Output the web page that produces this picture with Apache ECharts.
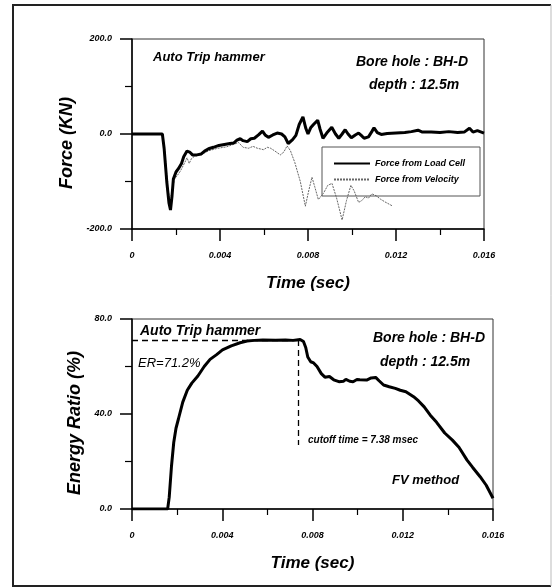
<!DOCTYPE html>
<html>
<head>
<meta charset="utf-8">
<script src="https://cdn.jsdelivr.net/npm/echarts@6/dist/echarts.min.js"></script>
<style>
  html, body { margin: 0; padding: 0; background: #fff; }
  #chart { width: 553px; height: 587px; }
</style>
</head>
<body>
<div id="chart"></div>
<script>
// time in msec
const loadCellT = [0, 1.38, 1.46, 1.58, 1.68, 1.75, 1.82, 1.88, 2.0, 2.11, 2.25, 2.35, 2.5, 2.62, 2.75, 2.95, 3.15, 3.3, 3.48, 3.7, 3.95, 4.2, 4.45, 4.62, 4.77, 4.92, 5.05, 5.24, 5.4, 5.56, 5.75, 5.93, 6.05, 6.2, 6.4, 6.6, 6.8, 6.95, 7.1, 7.18, 7.3, 7.45, 7.6, 7.77, 7.9, 8.0, 8.12, 8.25, 8.44, 8.55, 8.68, 8.85, 9.08, 9.25, 9.4, 9.55, 9.69, 9.82, 9.97, 10.15, 10.3, 10.42, 10.55, 10.75, 10.9, 11.0, 11.15, 11.33, 11.6, 12.0, 12.4, 12.7, 13.0, 13.2, 13.6, 14.0, 14.4, 14.8, 15.1, 15.34, 15.5, 15.7, 16.0];
const loadCellF = [0, 0, -30, -100, -145, -160, -130, -95, -80, -73, -62, -48, -36, -38, -44, -44, -42, -36, -31, -28, -24, -22, -20, -19, -13, -10, -14, -16, -10, -9, -2, 6, -2, -7, -2, 2, 0, -6, -20, -23, -12, -3, 20, 36, 12, 0, 13, 20, 29, 10, -9, 2, 14, 0, -9, 0, 9, 0, -8, -2, 2, -3, -9, -6, 5, 13, 3, -1, 1, 2, 3, 5, 8, 4, 4, 3, 5, 3, 4, 12, 4, 7, 2];

const velocityT = [0, 1.4, 1.5, 1.62, 1.74, 1.82, 1.92, 2.05, 2.2, 2.4, 2.5, 2.6, 2.7, 2.9, 3.2, 3.5, 3.9, 4.3, 4.6, 4.85, 5.05, 5.3, 5.5, 5.7, 5.98, 6.15, 6.3, 6.5, 6.74, 6.9, 7.05, 7.2, 7.4, 7.65, 7.88, 8.03, 8.18, 8.3, 8.47, 8.7, 8.9, 9.09, 9.3, 9.55, 9.75, 9.95, 10.1, 10.3, 10.45, 10.6, 10.75, 10.9, 11.1, 11.29, 11.5, 11.82];
const velocityF = [0, 0, -40, -110, -148, -125, -95, -88, -78, -60, -50, -62, -52, -45, -42, -35, -30, -27, -22, -18, -28, -30, -26, -30, -33, -28, -30, -36, -44, -38, -25, -35, -60, -100, -152, -120, -91, -110, -138, -125, -108, -104, -135, -181, -140, -108, -120, -144, -140, -132, -135, -126, -130, -137, -143, -151];

const energyT = [0, 1.58, 1.65, 1.75, 1.85, 1.95, 2.06, 2.25, 2.45, 2.65, 2.92, 3.2, 3.46, 3.75, 4.01, 4.4, 4.79, 5.1, 5.42, 5.8, 6.36, 6.8, 7.14, 7.45, 7.6, 7.7, 7.79, 7.92, 8.05, 8.2, 8.39, 8.55, 8.75, 8.94, 9.17, 9.38, 9.48, 9.65, 9.8, 9.97, 10.1, 10.4, 10.6, 10.8, 10.95, 11.15, 11.4, 11.67, 11.89, 12.14, 12.48, 12.7, 12.95, 13.22, 13.5, 13.86, 14.2, 14.49, 14.85, 15.1, 15.43, 15.7, 16.0];
const energyR = [0, 0, 5, 18, 28, 34, 38, 45, 50, 53, 56, 60, 63, 65, 67, 68.7, 70, 70.7, 71, 71.2, 71.1, 71.2, 71, 71.4, 70.5, 68, 64, 62, 61.5, 60, 57, 55.5, 55.8, 54.4, 53.6, 53.8, 54.6, 53.8, 53.6, 54.5, 54.4, 54.3, 55.2, 55.4, 54, 52.2, 51.5, 50.8, 50, 49.4, 47.3, 45.5, 43, 39.5, 36.5, 32, 29, 26, 20.6, 17.5, 13.6, 10, 4.5];

const erValue = 71.2;      // %
const cutoffTime = 7.38;   // msec
const cutoffBottom = 27;   // where the dashed cutoff line stops

const forceTicks = [-200, 200, 200];   // min, max, interval
const energyTicks = [0, 80, 40];
const timeTicks = [0, 0.016, 0.004];

function pairs(ts, vs) {
  return ts.map((t, i) => [t / 1000, vs[i]]);
}

const FONT = '"Liberation Sans", Arial, sans-serif';
const NARROW = '"Liberation Sans Narrow", "Liberation Sans", Arial, sans-serif';

const tickLabel = {
  fontFamily: NARROW, fontSize: 9, fontWeight: 'bold', fontStyle: 'italic', color: '#000'
};
const axisTitle = {
  fontFamily: FONT, fontSize: 17, fontWeight: 'bold', fontStyle: 'italic', color: '#000'
};

function timeAxis(gridIndex) {
  return {
    type: 'value', gridIndex,
    min: timeTicks[0], max: timeTicks[1], interval: timeTicks[2],
    name: 'Time (sec)', nameLocation: 'middle', nameGap: 46,
    nameTextStyle: axisTitle,
    axisLine: { show: true, onZero: false, lineStyle: { color: '#000', width: 1.5 } },
    axisTick: { show: true, length: 12, lineStyle: { color: '#000', width: 1.5 } },
    minorTick: { show: true, splitNumber: 2, length: 6, lineStyle: { color: '#000', width: 1.2 } },
    splitLine: { show: false },
    axisLabel: {
      ...tickLabel, margin: 22,
      formatter: v => (v === 0 ? '0' : v.toFixed(3))
    }
  };
}

function valueAxis(gridIndex, ticks, name, gap) {
  return {
    type: 'value', gridIndex,
    min: ticks[0], max: ticks[1], interval: ticks[2],
    name, nameLocation: 'middle', nameGap: gap,
    nameTextStyle: { ...axisTitle, fontSize: 18, padding: [0, 18, 0, 0] },
    axisLine: { show: true, onZero: false, lineStyle: { color: '#000', width: 1.5 } },
    axisTick: { show: true, length: 12, lineStyle: { color: '#000', width: 1.5 } },
    minorTick: { show: true, splitNumber: 2, length: 7, lineStyle: { color: '#000', width: 1.2 } },
    splitLine: { show: false },
    axisLabel: { ...tickLabel, margin: 20, formatter: v => v.toFixed(1) }
  };
}

function label(x, y, text, size, style) {
  return {
    type: 'text', x, y, z: 100,
    style: {
      text, fill: '#000', verticalAlign: 'middle',
      font: (style || 'italic bold') + ' ' + size + 'px ' + FONT
    }
  };
}

const chart = echarts.init(document.getElementById('chart'), null, { renderer: 'canvas' });

chart.setOption({
  animation: false,
  backgroundColor: '#fff',
  grid: [
    { left: 132, top: 39, width: 352, height: 190, show: true, borderColor: '#333', borderWidth: 1, outerBoundsMode: 'none' },
    { left: 132, top: 319, width: 361, height: 190, show: true, borderColor: '#333', borderWidth: 1, outerBoundsMode: 'none' }
  ],
  xAxis: [timeAxis(0), timeAxis(1)],
  yAxis: [
    valueAxis(0, forceTicks, 'Force (KN)', 55),
    valueAxis(1, energyTicks, 'Energy Ratio (%)', 48)
  ],
  legend: {
    data: ['Force from Load Cell', 'Force from Velocity'],
    orient: 'vertical',
    left: 322, top: 147,
    padding: [12, 15, 12, 11],
    itemGap: 7,
    itemWidth: 36, itemHeight: 10,
    borderColor: '#555', borderWidth: 1,
    itemStyle: { opacity: 0, borderWidth: 0 },
    textStyle: { fontFamily: NARROW, fontSize: 9, fontWeight: 'bold', fontStyle: 'italic', color: '#000' }
  },
  series: [
    {
      name: 'Force from Velocity', type: 'line',
      xAxisIndex: 0, yAxisIndex: 0,
      data: pairs(velocityT, velocityF),
      symbol: 'none',
      lineStyle: { color: '#666', width: 1, type: [2, 1] },
      itemStyle: { color: '#666' }
    },
    {
      name: 'Force from Load Cell', type: 'line',
      xAxisIndex: 0, yAxisIndex: 0,
      data: pairs(loadCellT, loadCellF),
      symbol: 'none',
      lineStyle: { color: '#000', width: 3 },
      itemStyle: { color: '#000' }
    },
    {
      name: 'Energy Ratio', type: 'line',
      xAxisIndex: 1, yAxisIndex: 1,
      data: pairs(energyT, energyR),
      symbol: 'none',
      lineStyle: { color: '#000', width: 3 },
      markLine: {
        silent: true, symbol: 'none', label: { show: false },
        lineStyle: { color: '#000', width: 1.3, type: [6, 4] },
        data: [
          [{ coord: [0, erValue] }, { coord: [cutoffTime / 1000, erValue] }],
          [{ coord: [cutoffTime / 1000, erValue] }, { coord: [cutoffTime / 1000, cutoffBottom] }]
        ]
      }
    }
  ],
  graphic: [
    // outer frame
    { type: 'polyline', shape: { points: [[551, 5], [13, 5], [13, 586], [551, 586]] },
      style: { stroke: '#222', lineWidth: 2, fill: null } },
    { type: 'line', shape: { x1: 551, y1: 5, x2: 551, y2: 586 },
      style: { stroke: '#bbb', lineWidth: 1 } },
    // top chart notes
    label(153, 57, 'Auto Trip hammer', 13),
    label(356, 62, 'Bore hole : BH-D', 14),
    label(369, 85, 'depth : 12.5m', 14),
    // bottom chart notes
    label(140, 331, 'Auto Trip hammer', 14),
    label(138, 363, 'ER=71.2%', 13, 'italic'),
    label(373, 338, 'Bore hole : BH-D', 14),
    label(380, 362, 'depth : 12.5m', 14),
    label(308, 440, 'cutoff time = 7.38 msec', 10),
    label(392, 480, 'FV method', 13)
  ]
});
</script>
</body>
</html>
